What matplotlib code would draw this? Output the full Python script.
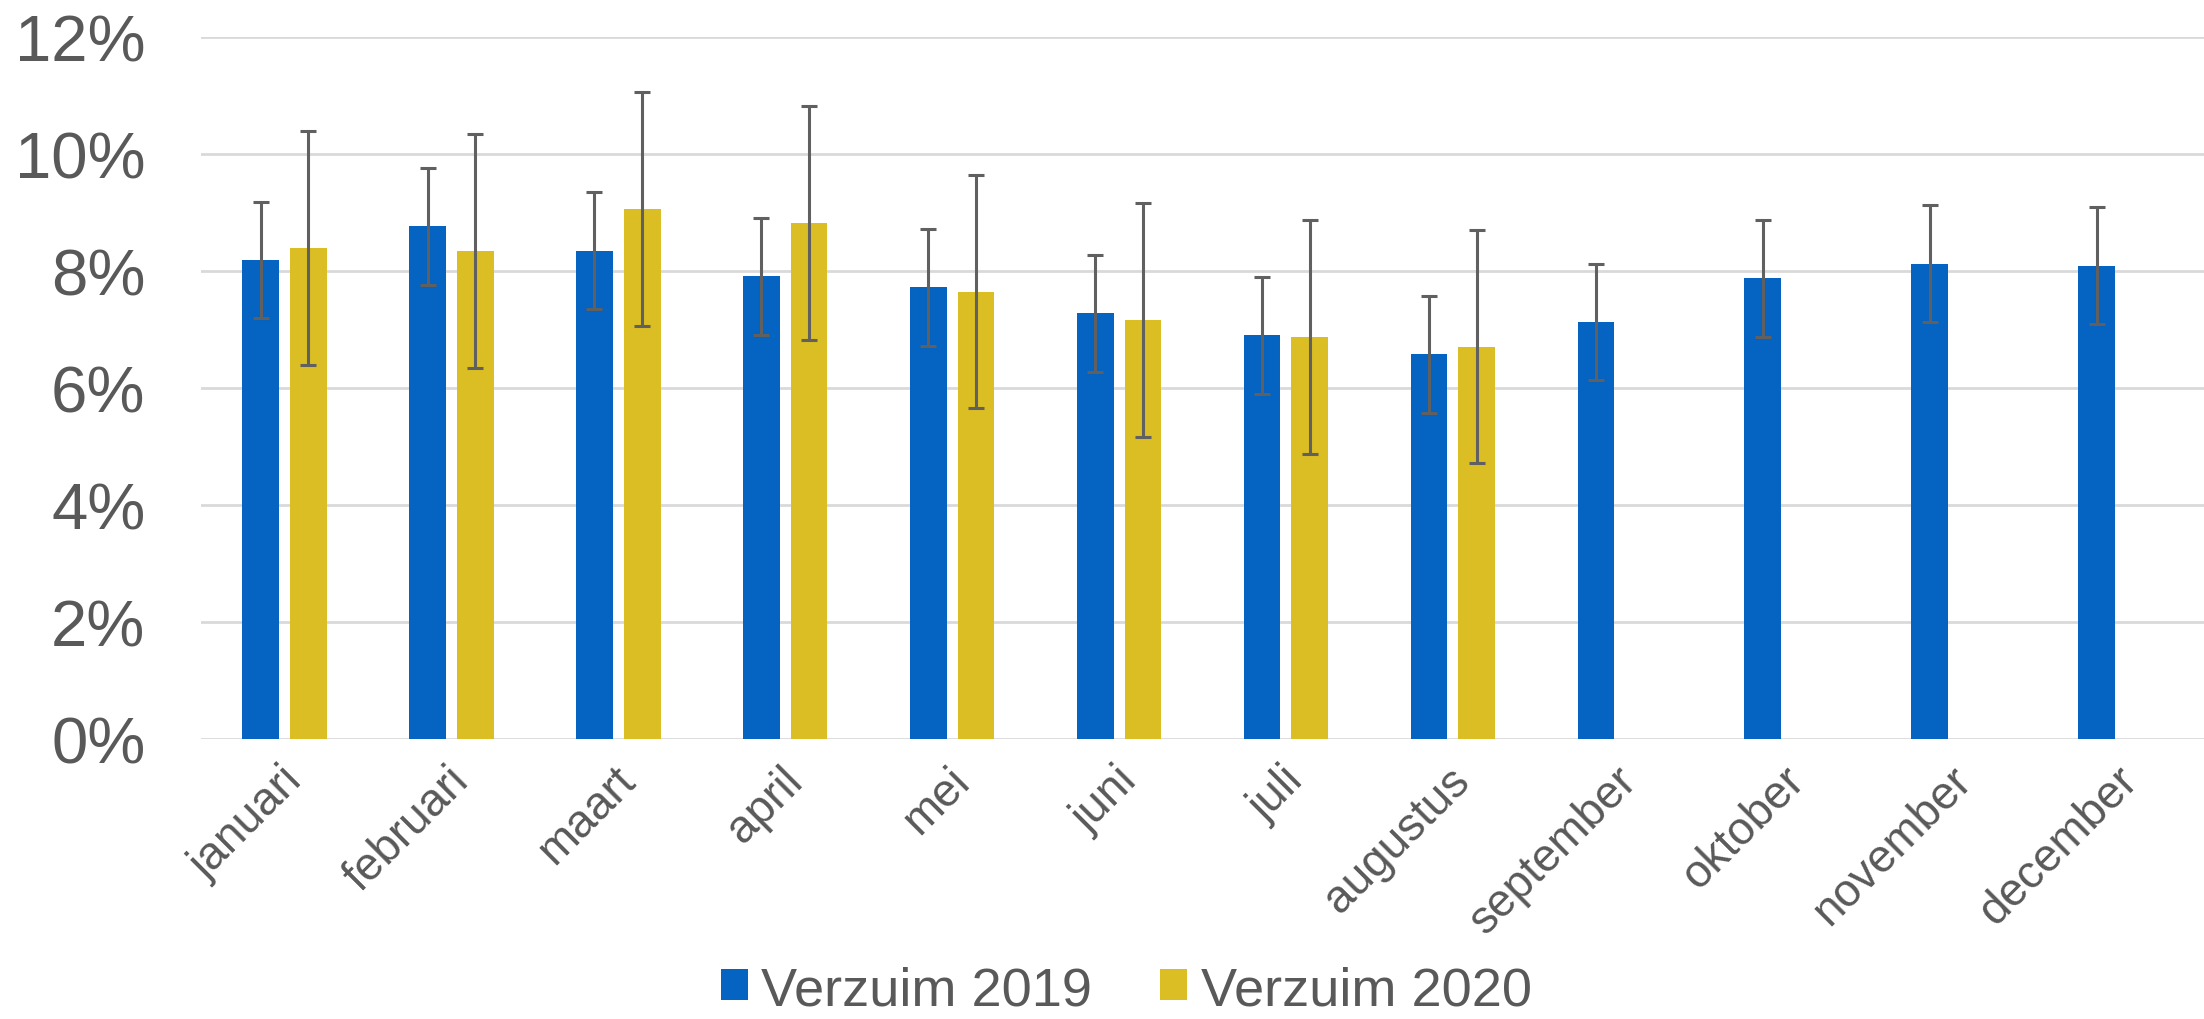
import numpy as np
import matplotlib.pyplot as plt
import matplotlib.transforms as mtransforms
from matplotlib.ticker import FuncFormatter

months = ["januari", "februari", "maart", "april", "mei", "juni", "juli",
          "augustus", "september", "oktober", "november", "december"]
verzuim_2019 = [8.19, 8.77, 8.35, 7.91, 7.72, 7.28, 6.90, 6.58, 7.13, 7.88, 8.13, 8.09]
verzuim_2020 = [8.39, 8.34, 9.06, 8.82, 7.65, 7.16, 6.87, 6.71]
err_2019 = 1.0
err_2020 = 2.0

blue = '#0563C1'
yellow = '#DBBE24'
grey_text = '#595959'

plt.rcParams['font.family'] = ['Liberation Sans', 'DejaVu Sans']

fig = plt.figure(figsize=(22.04, 10.2), dpi=100)
ax = fig.add_axes([0.0912, 0.2747, 0.9088, 0.6878])

x = np.arange(len(months))
w = 0.22
off = 0.143
ekw = dict(ecolor='#606060', elinewidth=2.2, capsize=6, capthick=2.2)

ax.bar(x - off, verzuim_2019, w, color=blue, yerr=err_2019, error_kw=ekw,
       label='Verzuim 2019', zorder=3)
x20 = x[:len(verzuim_2020)]
ax.bar(x20 + off, verzuim_2020, w, color=yellow, yerr=err_2020, error_kw=ekw,
       label='Verzuim 2020', zorder=3)

ax.set_xlim(-0.5, len(months) - 0.5)
ax.set_ylim(0, 12)
ax.set_yticks(np.arange(0, 13, 2))
ax.yaxis.set_major_formatter(FuncFormatter(lambda v, p: '{:.0f}%'.format(v)))
ax.grid(axis='y', color='#D9D9D9', linewidth=2, zorder=0)
ax.set_axisbelow(True)
for s in ax.spines.values():
    s.set_visible(False)

ax.set_xticks(x)
ax.set_xticklabels(months, rotation=45, ha='right', rotation_mode='anchor',
                   fontsize=33, color=grey_text)
ax.tick_params(axis='x', length=0, pad=14)
ax.tick_params(axis='y', length=0, pad=40, labelsize=47, labelcolor=grey_text)
shift = mtransforms.ScaledTranslation(-5 / 100, 0, fig.dpi_scale_trans)
for lbl in ax.get_xticklabels():
    lbl.set_transform(lbl.get_transform() + shift)

fig.legend(loc='lower center', bbox_to_anchor=(0.511, -0.044), ncol=2, frameon=False,
           fontsize=39, handlelength=0.5, handleheight=0.5, handletextpad=0.25,
           columnspacing=1.25, labelcolor=grey_text)

fig.savefig('out.png', dpi=100)
